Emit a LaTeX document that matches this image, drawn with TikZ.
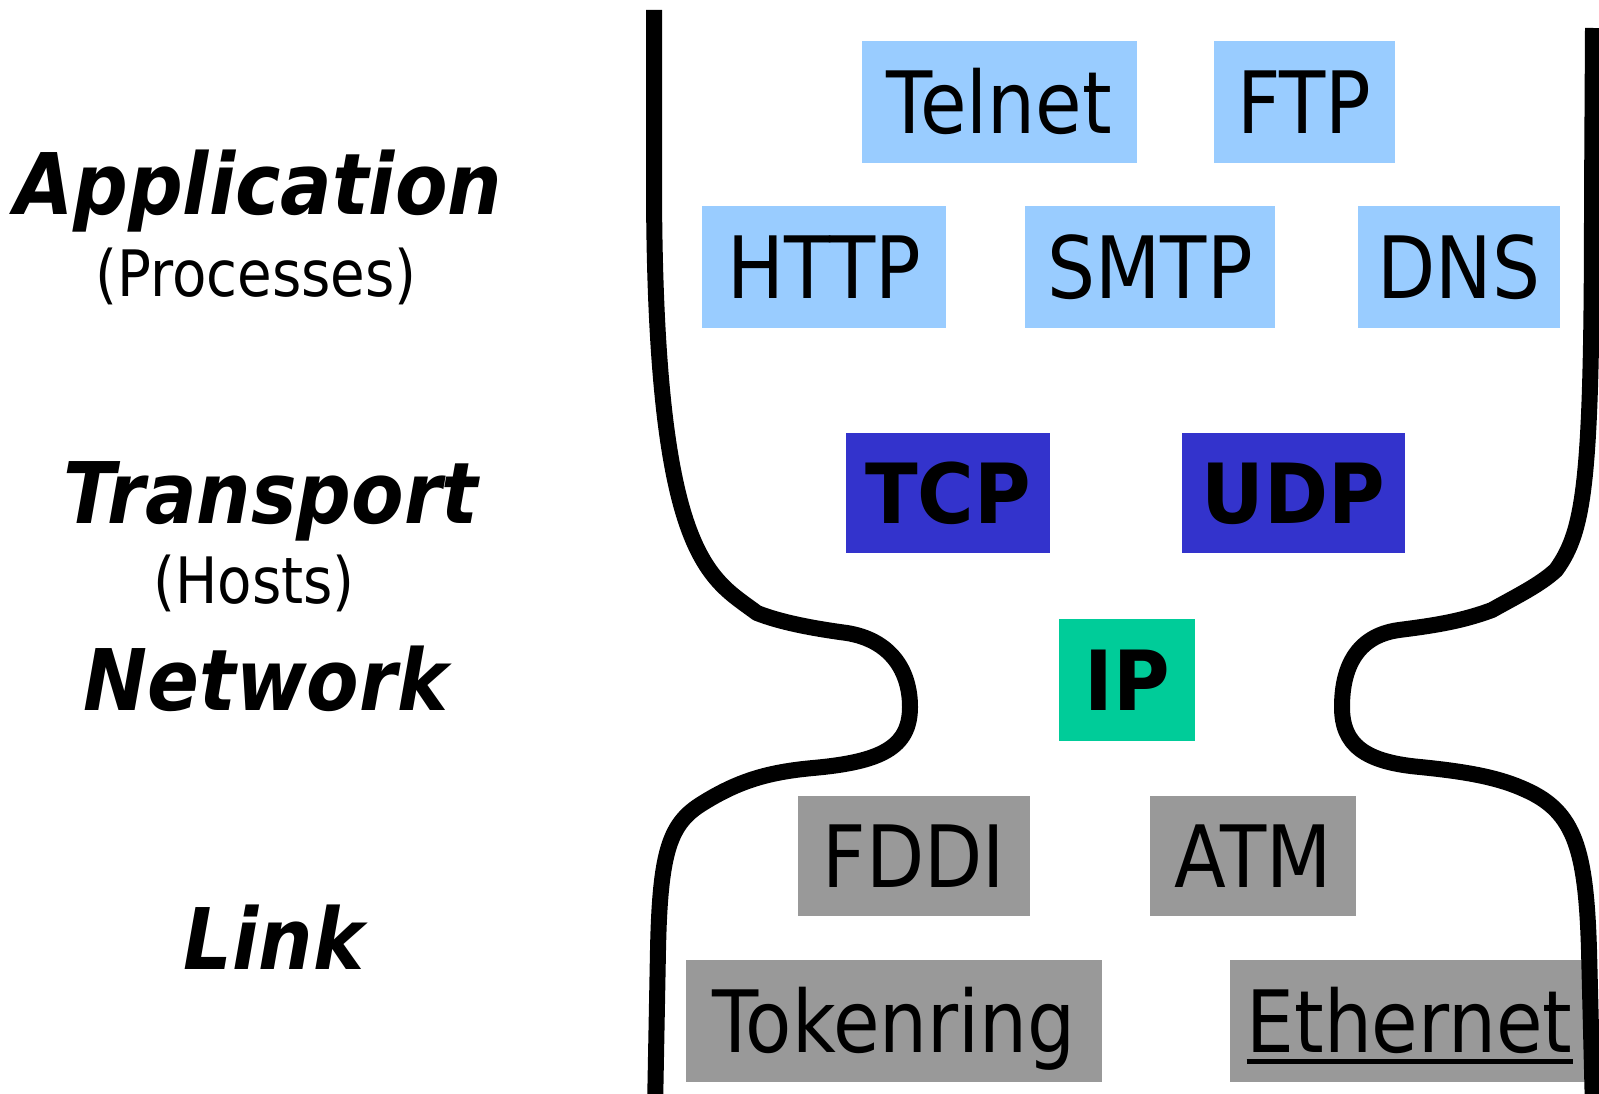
\documentclass[tikz,border=0pt]{standalone}
\usepackage{fontspec}
\newfontfamily\boxfont{DejaVu Sans}[FakeStretch=0.88]
\newfontfamily\protofont{DejaVu Sans}[FakeStretch=0.93]
\newfontfamily\layerfont{DejaVu Sans}[FakeStretch=0.90]

\definecolor{appblue}{HTML}{99CCFF}
\definecolor{transblue}{HTML}{3333CC}
\definecolor{netgreen}{HTML}{00CC99}
\definecolor{linkgray}{HTML}{999999}

\tikzset{
  proto/.style={rectangle, inner sep=0pt, text depth=0pt, minimum height=122pt},
  plain/.style={proto, text height=62.7pt,
    font=\boxfont\fontsize{86pt}{100pt}\selectfont},
  strong/.style={proto, text height=60.5pt,
    font=\protofont\bfseries\fontsize{83pt}{100pt}\selectfont},
  layer/.style={anchor=base, inner sep=0pt,
    font=\layerfont\bfseries\itshape\fontsize{85pt}{100pt}\selectfont},
  sublayer/.style={anchor=base, inner sep=0pt,
    font=\boxfont\fontsize{64pt}{80pt}\selectfont},
  wall/.style={line width=16pt, line join=round},
}

\begin{document}
\begin{tikzpicture}[x=1pt, y=-1pt]
\useasboundingbox (0,0) rectangle (1599,1094);

% layer names
\node[layer]    (lapp)   at (258,215) {Application};
\node[sublayer] (lproc)  at (256,296) {(Processes)};
\node[layer]    (ltrans) at (271,523) {Transport};
\node[sublayer] (lhosts) at (254,603) {(Hosts)};
\node[layer]    (lnet)   at (266,710) {Network};
\node[layer]    (llink)  at (274,969) {Link};

% application protocols
\node[plain, fill=appblue, minimum width=275pt] (telnet) at (999.5,102) {Telnet};
\node[plain, fill=appblue, minimum width=181pt] (ftp)    at (1304.5,102) {FTP};
\node[plain, fill=appblue, minimum width=244pt] (http)   at (824,267) {HTTP};
\node[plain, fill=appblue, minimum width=250pt] (smtp)   at (1150,267) {SMTP};
\node[plain, fill=appblue, minimum width=202pt] (dns)    at (1459,267) {DNS};

% transport and network
\node[strong, fill=transblue, minimum width=204pt, minimum height=120pt] (tcp) at (948,493) {TCP};
\node[strong, fill=transblue, minimum width=223pt, minimum height=120pt] (udp) at (1293.5,493) {UDP};
\node[strong, fill=netgreen, minimum width=136pt] (ip) at (1127,680) {IP};

% link technologies
\node[plain, fill=linkgray, minimum width=232pt, minimum height=120pt] (fddi) at (914,856) {FDDI};
\node[plain, fill=linkgray, minimum width=206pt, minimum height=120pt] (atm)  at (1253,856) {ATM};
\node[plain, fill=linkgray, minimum width=416pt] (tokenring) at (894,1021) {Tokenring};
\node[plain, fill=linkgray, minimum width=359pt] (ethernet) at (1409.5,1021)
  {\setbox0\hbox{Ethernet}\rlap{\rule[-12pt]{\wd0}{5pt}}\box0};

% hourglass walls
\draw[wall] (654,10) -- (654,180)
  .. controls (654,560) and (709,577) .. (757,613)
  .. controls (780,622) and (810,628) .. (847,633)
  .. controls (890,640) and (910,670) .. (910,707)
  .. controls (910,748) and (880,762) .. (813,768)
  .. controls (770,772) and (740,780) .. (703,803)
  .. controls (670,823) and (660,850) .. (658,950)
  -- (655,1110);
\draw[wall] (1593,28) -- (1592,200)
  .. controls (1592,480) and (1585,530) .. (1556,570)
  .. controls (1540,585) and (1515,597) .. (1492,610)
  .. controls (1460,622) and (1430,626) .. (1399,630)
  .. controls (1355,636) and (1342,670) .. (1342,707)
  .. controls (1342,745) and (1365,762) .. (1420,767)
  .. controls (1470,772) and (1500,778) .. (1526,790)
  .. controls (1575,812) and (1586,850) .. (1589,950)
  -- (1593,1110);
\end{tikzpicture}
\end{document}
